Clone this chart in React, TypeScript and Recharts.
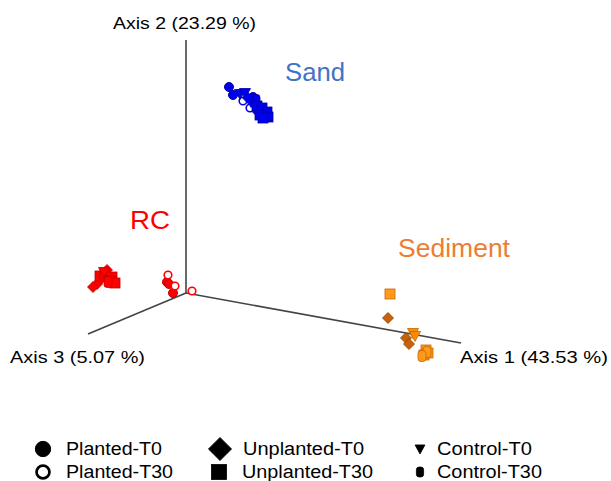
import React from "react";
import {
  ScatterChart,
  Scatter,
  XAxis,
  YAxis,
  ReferenceLine,
  ReferenceDot,
} from "recharts";

// projected PCoA positions (horizontal, vertical-down) for each group / treatment
const sandPlantedT0 = [
  { x: 229, y: 87 },
  { x: 233, y: 95 },
  { x: 253, y: 97 },
  { x: 255, y: 104 },
];
const sandPlantedT30 = [
  { x: 243, y: 101 },
  { x: 250, y: 108 },
];
const sandUnplantedT0 = [
  { x: 248, y: 98 },
  { x: 258, y: 112 },
];
const sandUnplantedT30 = [
  { x: 257, y: 106 },
  { x: 262, y: 108 },
  { x: 267, y: 112 },
  { x: 260, y: 115 },
  { x: 268, y: 117 },
  { x: 263, y: 118 },
];
const sandControlT0 = [
  { x: 240, y: 94 },
  { x: 245, y: 93 },
  { x: 251, y: 102 },
];
const sandControlT30 = [{ x: 256, y: 100 }];

const rcPlantedT0 = [
  { x: 167, y: 282 },
  { x: 169, y: 284 },
  { x: 173, y: 293 },
];
const rcPlantedT30 = [
  { x: 168, y: 275 },
  { x: 175, y: 286 },
  { x: 192, y: 291 },
];
const rcUnplantedT0 = [
  { x: 107, y: 270 },
  { x: 101, y: 279 },
  { x: 97, y: 284 },
  { x: 93, y: 287 },
];
const rcUnplantedT30 = [
  { x: 100, y: 276 },
  { x: 105, y: 274 },
  { x: 112, y: 277 },
  { x: 110, y: 281 },
  { x: 115, y: 283 },
];
const rcControlT0 = [{ x: 104, y: 272 }];
const rcControlT30 = [{ x: 108, y: 282 }];

const sedUnplantedT0 = [
  { x: 388, y: 318 },
  { x: 406, y: 338 },
  { x: 409, y: 344 },
];
const sedUnplantedT30 = [
  { x: 390, y: 294 },
  { x: 426, y: 350 },
  { x: 424, y: 355 },
  { x: 428, y: 353 },
];
const sedControlT0 = [
  { x: 413, y: 333 },
  { x: 415, y: 336 },
];
const sedControlT30 = [
  { x: 427, y: 352 },
  { x: 422, y: 356 },
];

// axis frame
const origin = { x: 186, y: 293 };
const axisEnds = [
  { x: 461, y: 343 },
  { x: 186, y: 40 },
  { x: 88, y: 334 },
];

const annotations = [
  { text: "Axis 2 (23.29 %)", x: 113, y: 23, w: 143, size: 16, color: "#000" },
  { text: "Axis 3 (5.07 %)", x: 10, y: 357, w: 135, size: 16, color: "#000" },
  { text: "Axis 1 (43.53 %)", x: 460, y: 357, w: 148, size: 16, color: "#000" },
  { text: "Sand", x: 285, y: 72, w: 60, size: 25, color: "#4472C4" },
  { text: "RC", x: 130, y: 220, w: 40, size: 25, color: "#FF0000" },
  { text: "Sediment", x: 398, y: 248, w: 112, size: 25, color: "#ED7D31" },
];

const legendItems = [
  { label: "Planted-T0", kind: "circle", x: 43, y: 449, tw: 96 },
  { label: "Planted-T30", kind: "open", x: 43, y: 472, tw: 107 },
  { label: "Unplanted-T0", kind: "diamond", x: 220, y: 449, tw: 121 },
  { label: "Unplanted-T30", kind: "square", x: 219, y: 472, tw: 131 },
  { label: "Control-T0", kind: "triangle", x: 420, y: 449, tw: 95 },
  { label: "Control-T30", kind: "capsule", x: 420, y: 472, tw: 105 },
];

const FONT = "Arial, 'Liberation Sans', sans-serif";

const drawMarker = (
  kind: string,
  cx: number,
  cy: number,
  fill: string,
  stroke: string,
  s: number
) => {
  if (kind === "circle")
    return <circle cx={cx} cy={cy} r={4.5 * s} fill={fill} stroke={stroke} strokeWidth={1} />;
  if (kind === "open")
    return <circle cx={cx} cy={cy} r={3.8 * s} fill="#fff" stroke={fill} strokeWidth={1.6 * s} />;
  if (kind === "square")
    return (
      <rect x={cx - 5 * s} y={cy - 5 * s} width={10 * s} height={10 * s} fill={fill} stroke={stroke} strokeWidth={0.8} />
    );
  if (kind === "diamond")
    return (
      <polygon
        points={`${cx},${cy - 5.5 * s} ${cx + 5.5 * s},${cy} ${cx},${cy + 5.5 * s} ${cx - 5.5 * s},${cy}`}
        fill={fill}
        stroke={stroke}
        strokeWidth={0.8}
      />
    );
  if (kind === "triangle")
    return (
      <polygon
        points={`${cx - 5.5 * s},${cy - 4.5 * s} ${cx + 5.5 * s},${cy - 4.5 * s} ${cx},${cy + 5.5 * s}`}
        fill={fill}
        stroke={stroke}
        strokeWidth={0.8}
      />
    );
  return (
    <rect x={cx - 4 * s} y={cy - 5.5 * s} width={8 * s} height={11 * s} rx={3 * s} fill={fill} stroke={stroke} strokeWidth={0.8} />
  );
};

const shapeOf = (kind: string, fill: string, stroke: string) => (props: any) =>
  drawMarker(kind, props.cx, props.cy, fill, stroke, 1);

const BLUE = "#0000F0";
const BLUE_D = "#0000A0";
const RED = "#FF0000";
const RED_D = "#C00000";
const ORANGE = "#FF9A1A";
const ORANGE_D = "#C86400";
const BROWN = "#C8620A";

const series = [
  { data: rcUnplantedT0, kind: "diamond", fill: RED, stroke: RED_D },
  { data: rcUnplantedT30, kind: "square", fill: RED, stroke: RED_D },
  { data: rcControlT0, kind: "triangle", fill: RED, stroke: RED_D },
  { data: rcControlT30, kind: "capsule", fill: RED, stroke: RED_D },
  { data: rcPlantedT0, kind: "circle", fill: RED, stroke: RED_D },
  { data: rcPlantedT30, kind: "open", fill: RED, stroke: RED_D },
  { data: sandPlantedT0, kind: "circle", fill: BLUE, stroke: BLUE_D },
  { data: sandPlantedT30, kind: "open", fill: BLUE, stroke: BLUE_D },
  { data: sandControlT0, kind: "triangle", fill: BLUE, stroke: BLUE_D },
  { data: sandControlT30, kind: "capsule", fill: BLUE, stroke: BLUE_D },
  { data: sandUnplantedT0, kind: "diamond", fill: BLUE, stroke: BLUE_D },
  { data: sandUnplantedT30, kind: "square", fill: BLUE, stroke: BLUE_D },
  { data: sedUnplantedT30, kind: "square", fill: ORANGE, stroke: ORANGE_D },
  { data: sedUnplantedT0, kind: "diamond", fill: BROWN, stroke: "#8A4000" },
  { data: sedControlT0, kind: "triangle", fill: "#FF8C00", stroke: ORANGE_D },
  { data: sedControlT30, kind: "capsule", fill: ORANGE, stroke: ORANGE_D },
];

const App = () => {
  return (
    <div style={{ position: "absolute", left: 0, top: 0, width: 611, height: 481, background: "#fff" }}>
      <ScatterChart width={611} height={481} margin={{ top: 0, right: 0, bottom: 0, left: 0 }}>
        <XAxis type="number" dataKey="x" domain={[0, 611]} hide />
        <YAxis type="number" dataKey="y" domain={[0, 481]} reversed hide />
        {axisEnds.map((end, i) => (
          <ReferenceLine
            key={`axis-${i}`}
            segment={[origin, end]}
            stroke="#444"
            strokeWidth={1.6}
            ifOverflow="visible"
          />
        ))}
        {series.map((s, i) => (
          <Scatter
            key={`s-${i}`}
            data={s.data}
            shape={shapeOf(s.kind, s.fill, s.stroke)}
            isAnimationActive={false}
          />
        ))}
        {annotations.map((a) => (
          <ReferenceDot
            key={a.text}
            x={a.x}
            y={a.y}
            ifOverflow="visible"
            shape={(p: any) => (
              <text
                x={p.cx}
                y={p.cy}
                dominantBaseline="central"
                fontFamily={FONT}
                fontSize={a.size}
                fill={a.color}
                textLength={a.w}
                lengthAdjust="spacingAndGlyphs"
              >
                {a.text}
              </text>
            )}
          />
        ))}
      </ScatterChart>
      <svg
        width={611}
        height={481}
        style={{ position: "absolute", left: 0, top: 0, pointerEvents: "none" }}
      >
        {legendItems.map((it) => {
          const scale =
            it.kind === "diamond" ? 2.1 : it.kind === "square" ? 1.5 : it.kind === "triangle" || it.kind === "capsule" ? 0.9 : 1.7;
          return (
            <g key={it.label}>
              {drawMarker(it.kind, it.x, it.y, "#000", "#000", scale)}
              <text
                x={it.x + (it.kind === "triangle" || it.kind === "capsule" ? 17 : 23)}
                y={it.y}
                dominantBaseline="central"
                fontFamily={FONT}
                fontSize={18}
                fill="#000"
                textLength={it.tw}
                lengthAdjust="spacingAndGlyphs"
              >
                {it.label}
              </text>
            </g>
          );
        })}
      </svg>
    </div>
  );
};

export default App;
